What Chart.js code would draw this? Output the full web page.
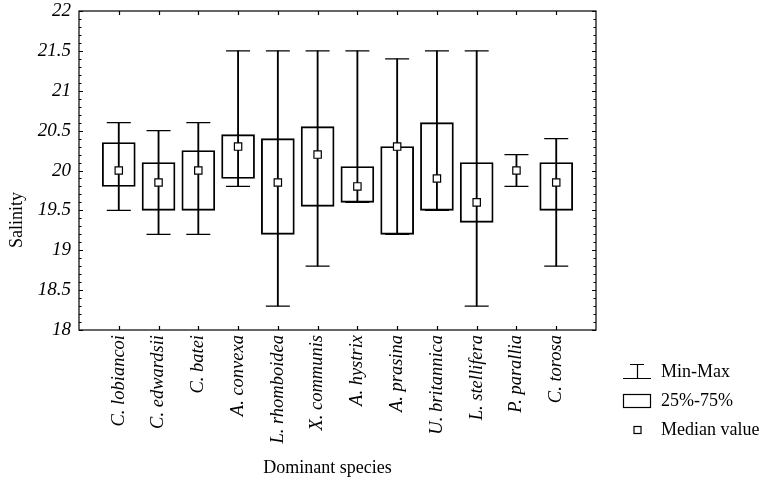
<!DOCTYPE html>
<html>
<head>
<meta charset="utf-8">
<script src="https://cdn.jsdelivr.net/npm/chart.js@4/dist/chart.umd.min.js"></script>
<style>
  body { margin: 0; background: #fff; }
  #wrap { width: 763px; height: 478px; }
</style>
</head>
<body>
<div id="wrap"><canvas id="box-chart"></canvas></div>
<script>
const species = ['C. lobiancoi', 'C. edwardsii', 'C. batei', 'A. convexa', 'L. rhomboidea', 'X. communis',
    'A. hystrix', 'A. prasina', 'U. britannica', 'L. stellifera', 'P. parallia', 'C. torosa'];
const minVals    = [19.5, 19.2, 19.2, 19.8, 18.3, 18.8, 19.6, 19.2, 19.5, 18.3, 19.8, 18.8];
const q1Vals     = [19.8, 19.5, 19.5, 19.9, 19.2, 19.55, 19.6, 19.2, 19.5, 19.35, null, 19.5];
const medianVals = [20.0, 19.85, 20.0, 20.3, 19.85, 20.2, 19.8, 20.3, 19.9, 19.6, 20.0, 19.85];
const q3Vals     = [20.35, 20.1, 20.25, 20.45, 20.4, 20.55, 20.05, 20.3, 20.6, 20.1, null, 20.1];
const maxVals    = [20.6, 20.5, 20.6, 21.5, 21.5, 21.5, 21.5, 21.4, 21.5, 21.5, 20.2, 20.4];
const yTicks = { min: 18, max: 22, step: 0.5, minor: 0.1 };

// empty slot on each side, like the original plot
const pad = arr => [null, ...arr, null];
const labels = pad(species).map(s => s || '');

const serif = "'Liberation Serif', 'Times New Roman', serif";
const lw = 1.2;

// frame, inward ticks, axis titles and legend
const decorPlugin = {
    id: 'decor',
    afterDraw(chart) {
        const ctx = chart.ctx;
        const a = chart.chartArea;
        const x = chart.scales.x, y = chart.scales.y;
        ctx.save();
        ctx.strokeStyle = '#000';
        ctx.lineWidth = lw;
        ctx.strokeRect(a.left, a.top, a.right - a.left, a.bottom - a.top);

        ctx.beginPath();
        const n = Math.round((yTicks.max - yTicks.min) / yTicks.minor);
        for (let i = 0; i <= n; i++) {
            const v = yTicks.min + i * yTicks.minor;
            const py = Math.round(y.getPixelForValue(v)) + 0.5;
            const len = (i % 5 === 0) ? 4 : 2.5;
            ctx.moveTo(a.left, py); ctx.lineTo(a.left + len, py);
            ctx.moveTo(a.right, py); ctx.lineTo(a.right - len, py);
        }
        for (let i = 1; i <= species.length; i++) {
            const px = Math.round(x.getPixelForValue(i)) + 0.5;
            ctx.moveTo(px, a.top); ctx.lineTo(px, a.top + 4);
            ctx.moveTo(px, a.bottom); ctx.lineTo(px, a.bottom - 4);
        }
        ctx.stroke();

        ctx.fillStyle = '#000';
        ctx.font = '18px ' + serif;
        ctx.textAlign = 'center';
        ctx.textBaseline = 'middle';
        ctx.fillText('Dominant species', (a.left + a.right) / 2 - 10, 468);

        ctx.save();
        ctx.translate(17, 220);
        ctx.rotate(-Math.PI / 2);
        ctx.fillText('Salinity', 0, 0);
        ctx.restore();

        // legend
        const ix = 637;
        ctx.beginPath();
        ctx.moveTo(630, 364.5); ctx.lineTo(644, 364.5);
        ctx.moveTo(ix + 0.5, 364.5); ctx.lineTo(ix + 0.5, 378.5);
        ctx.moveTo(623, 378.5); ctx.lineTo(651, 378.5);
        ctx.stroke();
        ctx.strokeRect(623.5, 394.5, 27, 13);
        ctx.strokeRect(ix - 3, 426.5, 7, 7);

        ctx.textAlign = 'left';
        ctx.fillText('Min-Max', 661, 372);
        ctx.fillText('25%-75%', 661, 401);
        ctx.fillText('Median value', 661, 430);
        ctx.restore();
    }
};

const boxData = pad(q1Vals.map((q, i) => (q === null || q3Vals[i] === null) ? null : [q, q3Vals[i]]));
const whiskerData = pad(minVals.map((m, i) => [m, maxVals[i]]));

new Chart(document.getElementById('box-chart').getContext('2d'), {
    type: 'bar',
    data: {
        labels: labels,
        datasets: [
            {
                type: 'line',
                label: 'Median value',
                data: pad(medianVals),
                showLine: false,
                pointStyle: 'rect',
                pointRadius: 5.2,
                pointBackgroundColor: '#fff',
                pointBorderColor: '#000',
                pointBorderWidth: lw
            },
            {
                type: 'line',
                label: 'Max',
                data: pad(maxVals),
                showLine: false,
                pointStyle: 'line',
                pointRadius: 12,
                pointBorderColor: '#000',
                pointBorderWidth: lw
            },
            {
                type: 'line',
                label: 'Min',
                data: pad(minVals),
                showLine: false,
                pointStyle: 'line',
                pointRadius: 12,
                pointBorderColor: '#000',
                pointBorderWidth: lw
            },
            {
                label: '25%-75%',
                data: boxData,
                grouped: false,
                backgroundColor: 'rgba(0,0,0,0)',
                borderColor: '#000',
                borderWidth: lw,
                borderSkipped: false,
                barThickness: 33
            },
            {
                label: 'Min-Max',
                data: whiskerData,
                grouped: false,
                backgroundColor: '#000',
                borderWidth: 0,
                barThickness: lw
            }
        ]
    },
    options: {
        responsive: true,
        maintainAspectRatio: false,
        animation: false,
        layout: { autoPadding: false, padding: { top: 11, right: 167, left: 0, bottom: 0 } },
        plugins: {
            legend: { display: false },
            tooltip: { enabled: false }
        },
        scales: {
            x: {
                type: 'category',
                offset: false,
                grid: { display: false, drawTicks: false },
                border: { display: false },
                ticks: {
                    autoSkip: false,
                    minRotation: 90,
                    maxRotation: 90,
                    padding: 5,
                    color: '#000',
                    font: { family: serif, size: 18.5, style: 'italic' }
                },
                afterFit: scale => { scale.height = 148; }
            },
            y: {
                min: yTicks.min,
                max: yTicks.max,
                grid: { display: false, drawTicks: false },
                border: { display: false },
                ticks: {
                    stepSize: yTicks.step,
                    padding: 8,
                    color: '#000',
                    font: { family: serif, size: 19, style: 'italic' },
                    callback: v => String(Math.round(v * 10) / 10)
                },
                afterFit: scale => { scale.width = 79; scale.paddingTop = 0; scale.paddingBottom = 0; }
            }
        }
    },
    plugins: [decorPlugin]
});
</script>
</body>
</html>
